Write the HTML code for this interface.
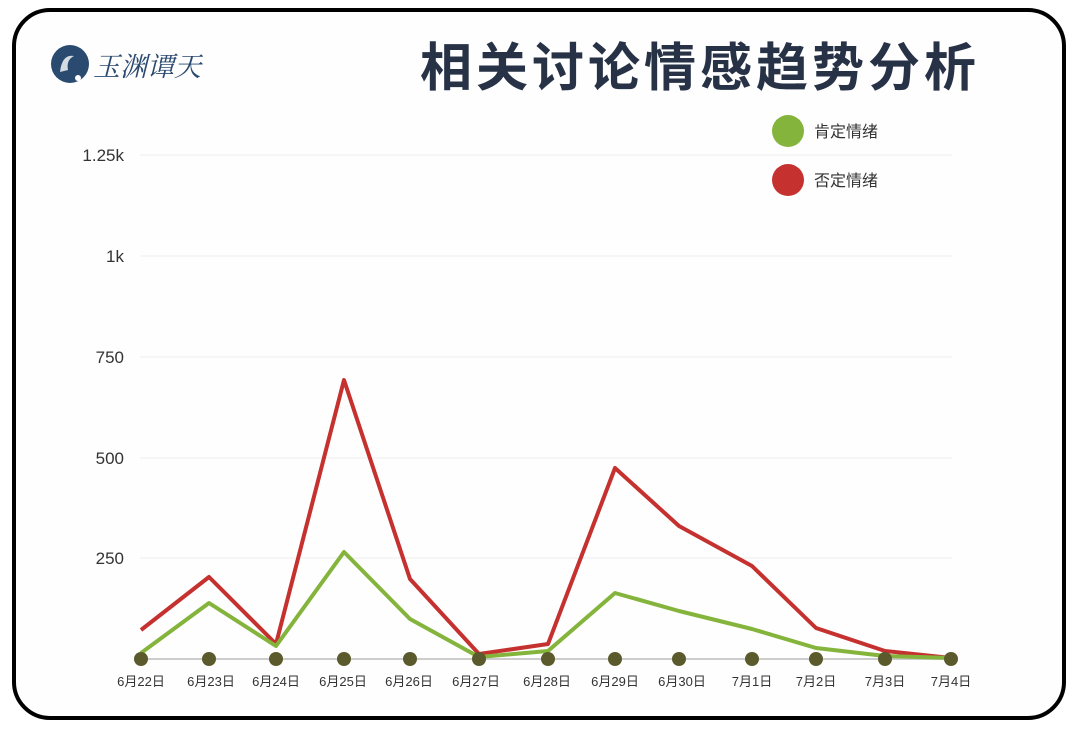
<!DOCTYPE html>
<html><head><meta charset="utf-8"><style>
body{margin:0;background:#fff;width:1080px;height:729px;overflow:hidden;font-family:"Liberation Sans","Noto Sans CJK SC",sans-serif}
</style></head><body>
<svg width="1080" height="729" xmlns="http://www.w3.org/2000/svg" font-family="Liberation Sans, Noto Sans CJK SC, sans-serif">
<rect x="0" y="0" width="1080" height="729" fill="#fff"/>
<rect x="14" y="10" width="1050" height="708" rx="36" fill="#fefefe" stroke="#000" stroke-width="4"/>
<circle cx="70" cy="64" r="19" fill="#2a4a70"/>
<path d="M60 72 q2-18 14-16 q-8 4-6 14z" fill="#fff" opacity="0.8"/>
<circle cx="78" cy="78" r="3" fill="#fff"/>
<text x="93" y="76" font-size="27" fill="#2a4a70" font-family="Noto Serif CJK SC, serif" font-style="italic">玉渊谭天</text>
<text x="700" y="86" font-size="52" font-weight="bold" fill="#273246" text-anchor="middle" letter-spacing="4">相关讨论情感趋势分析</text>
<g stroke="#eee" stroke-width="1">
<line x1="140" x2="952" y1="155" y2="155"/><line x1="140" x2="952" y1="256" y2="256"/>
<line x1="140" x2="952" y1="357" y2="357"/><line x1="140" x2="952" y1="458" y2="458"/>
<line x1="140" x2="952" y1="558" y2="558"/>
</g>
<line x1="140" x2="952" y1="659" y2="659" stroke="#ccc" stroke-width="2"/>
<g font-size="17" fill="#333" text-anchor="end">
<text x="124" y="161">1.25k</text><text x="124" y="262">1k</text><text x="124" y="363">750</text>
<text x="124" y="464">500</text><text x="124" y="564">250</text>
</g>
<polyline fill="none" stroke="#c5312f" stroke-width="4" stroke-linejoin="round" points="141,630 209,577 276,644 344,380 410,579 479,654 548,644 615,468 679,526 752,566 816,628 885,651 951,658"/>
<polyline fill="none" stroke="#84b43c" stroke-width="4" stroke-linejoin="round" points="141,653 209,603 276,646 344,552 410,619 479,657 548,651 615,593 679,611 752,629 816,648 885,656 951,658"/>
<g fill="#5b5a2c">
<circle cx="141" cy="659" r="7"/><circle cx="209" cy="659" r="7"/><circle cx="276" cy="659" r="7"/><circle cx="344" cy="659" r="7"/><circle cx="410" cy="659" r="7"/><circle cx="479" cy="659" r="7"/><circle cx="548" cy="659" r="7"/><circle cx="615" cy="659" r="7"/><circle cx="679" cy="659" r="7"/><circle cx="752" cy="659" r="7"/><circle cx="816" cy="659" r="7"/><circle cx="885" cy="659" r="7"/><circle cx="951" cy="659" r="7"/>
</g>
<g font-size="13" fill="#333" text-anchor="middle">
<text x="141" y="686">6月22日</text><text x="211" y="686">6月23日</text><text x="276" y="686">6月24日</text><text x="343" y="686">6月25日</text><text x="409" y="686">6月26日</text><text x="476" y="686">6月27日</text><text x="547" y="686">6月28日</text><text x="615" y="686">6月29日</text><text x="682" y="686">6月30日</text><text x="752" y="686">7月1日</text><text x="816" y="686">7月2日</text><text x="885" y="686">7月3日</text><text x="951" y="686">7月4日</text>
</g>
<circle cx="788" cy="131" r="16" fill="#84b43c"/>
<circle cx="788" cy="180" r="16" fill="#c5312f"/>
<text x="814" y="137" font-size="16" fill="#333">肯定情绪</text>
<text x="814" y="186" font-size="16" fill="#333">否定情绪</text>
</svg>
</body></html>
